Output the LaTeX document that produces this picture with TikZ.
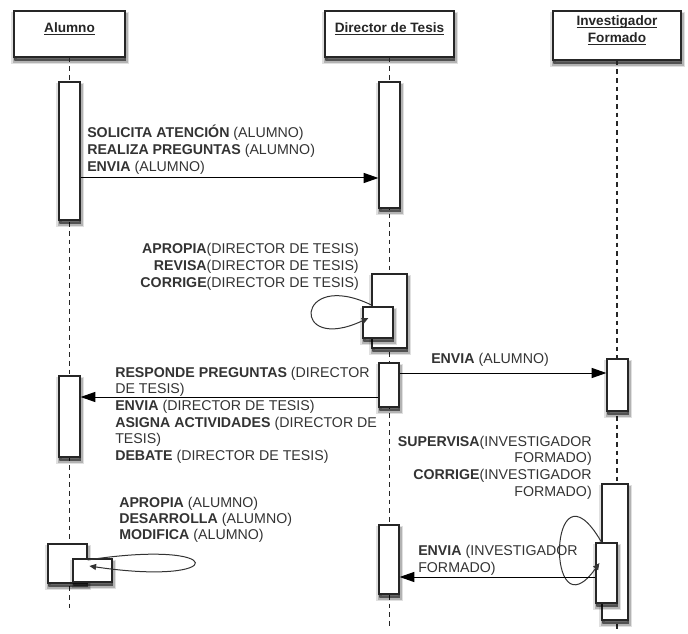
\documentclass[tikz,border=0pt]{standalone}
\usepackage{fontspec}
\setmainfont{Liberation Sans}
\usetikzlibrary{arrows.meta,fit,calc,shadows}

\newcommand{\msgfont}{\fontsize{10.65}{12.8}\selectfont}
\newcommand{\hdrfont}{\fontsize{10.2}{12.75}\selectfont\bfseries}
% underline kept close to the baseline, through the descenders
\newcommand{\hdrul}[1]{\underline{\raisebox{0pt}[\height][0pt]{#1}}}

\begin{document}
\begin{tikzpicture}[x=0.75pt,y=-0.75pt,
  % soft shadow built from a few translucent layers below the box
  softshadow/.style={
    general shadow={shadow xshift=0.4pt, shadow yshift=-3pt,
      draw=black, line width=5pt, opacity=0.12, fill=black},
    general shadow={shadow xshift=0.4pt, shadow yshift=-3pt,
      draw=black, line width=3pt, opacity=0.2, fill=black},
    general shadow={shadow xshift=0.3pt, shadow yshift=-2.6pt,
      draw=black, line width=1.2pt, opacity=0.35, fill=black}},
  box/.style={softshadow, draw=black!85, line width=0.9pt, fill=white, inner sep=0pt},
  head/.style={box, font=\hdrfont, align=center, text=black!85},
  act/.style={box},
  life/.style={draw=black!85, line width=0.8pt, dash pattern=on 3.5pt off 3pt},
  msg/.style={draw=black, line width=0.75pt, -{Triangle[length=11pt,width=7.5pt]}},
  selfmsg/.style={draw=black!80, line width=0.75pt, -{Triangle[length=5pt,width=4.5pt]}},
  lbl/.style={inner sep=0pt, font=\msgfont, text=black!80},
]
\useasboundingbox (0,0) rectangle (688,634);

% participants
\node[head, fit={(14,11) (125,57)}] (hA) {\hdrul{Alumno}};
\node[head, fit={(325,11) (454,57)}] (hD) {\hdrul{Director de Tesis}};
\node[head, fit={(553,11) (681,60)}] (hI) {\hdrul{Investigador}\\\hdrul{Formado}};

% lifelines
\coordinate (eA) at (69.5,610);
\coordinate (eD) at (389.5,626);
\coordinate (eI) at (617,632);
\draw[life] (hA.south) -- (eA);
\draw[life] (hD.south) -- (eD);
\draw[life] (hI.south) -- (eI);

% activation bars
\node[act, fit={(59,82) (80,220)}] (aA1) {};
\node[act, fit={(59,376) (80,457)}] (aA2) {};
\node[act, fit={(48,544) (87,583)}] (aA3) {};
\node[act, fit={(73,559) (112,582)}] (aA4) {};

\node[act, fit={(379,82) (400,208)}] (aD1) {};
\node[act, fit={(372,274) (407,348)}] (aD2) {};
\node[act, fit={(363,307) (393,338)}] (aD3) {};
\node[act, fit={(379,363) (399,407)}] (aD4) {};
\node[act, fit={(379,525) (399,594)}] (aD5) {};

\node[act, fit={(607,359) (628,411)}] (aI1) {};
\node[act, fit={(602,484) (628,620)}] (aI2) {};
\node[act, fit={(596,543) (617,603)}] (aI3) {};

% messages
\draw[msg] (aA1.east |- 0,178) -- (aD1.west |- 0,178);
\draw[selfmsg] (aD2.west |- 0,305) .. controls (295,268) and (290,355) .. ($(aD3.west)+(6,-4.5)$);
\draw[msg] (aD4.east |- 0,373) -- (aI1.west |- 0,373);
\draw[msg] (aD4.west |- 0,397) -- (aA2.east |- 0,397);
\draw[selfmsg] (aA3.east |- 0,560) .. controls (230,538) and (230,587) .. ($(aA4.west)+(17,-4.5)$);
\draw[selfmsg] (aI2.west |- 0,542) .. controls (548,450) and (545,640) .. ($(aI3.west)+(4,-10)$);
\draw[msg] (aI3.west |- 0,577) -- (aD5.east |- 0,577);

% message labels
\node[lbl, anchor=base west] (t1a) at (87,138) {\textbf{SOLICITA ATENCIÓN} (ALUMNO)};
\node[lbl, anchor=base west] (t1b) at (87,155) {\textbf{REALIZA PREGUNTAS} (ALUMNO)};
\node[lbl, anchor=base west] (t1c) at (87,172) {\textbf{ENVIA} (ALUMNO)};

\node[lbl, anchor=base east] (t2a) at (359,254) {\textbf{APROPIA}(DIRECTOR DE TESIS)};
\node[lbl, anchor=base east] (t2b) at (359,271) {\textbf{REVISA}(DIRECTOR DE TESIS)};
\node[lbl, anchor=base east] (t2c) at (359,287.5) {\textbf{CORRIGE}(DIRECTOR DE TESIS)};

\node[lbl, anchor=base west] (t3) at (431,363) {\textbf{ENVIA} (ALUMNO)};

\node[lbl, anchor=base west] (t4a) at (115,377) {\textbf{RESPONDE PREGUNTAS} (DIRECTOR};
\node[lbl, anchor=base west] (t4b) at (115,393) {DE TESIS)};
\node[lbl, anchor=base west] (t4c) at (115,410) {\textbf{ENVIA} (DIRECTOR DE TESIS)};
\node[lbl, anchor=base west] (t4d) at (115,427) {\textbf{ASIGNA ACTIVIDADES} (DIRECTOR DE};
\node[lbl, anchor=base west] (t4e) at (115,443) {TESIS)};
\node[lbl, anchor=base west] (t4f) at (115,460) {\textbf{DEBATE} (DIRECTOR DE TESIS)};

\node[lbl, anchor=base east] (t5a) at (592,446) {\textbf{SUPERVISA}(INVESTIGADOR};
\node[lbl, anchor=base east] (t5b) at (592,462) {FORMADO)};
\node[lbl, anchor=base east] (t5c) at (592,479) {\textbf{CORRIGE}(INVESTIGADOR};
\node[lbl, anchor=base east] (t5d) at (592,496) {FORMADO)};

\node[lbl, anchor=base west] (t6a) at (119,507) {\textbf{APROPIA} (ALUMNO)};
\node[lbl, anchor=base west] (t6b) at (119,523) {\textbf{DESARROLLA} (ALUMNO)};
\node[lbl, anchor=base west] (t6c) at (119,539) {\textbf{MODIFICA} (ALUMNO)};

\node[lbl, anchor=base west] (t7a) at (418,555) {\textbf{ENVIA} (INVESTIGADOR};
\node[lbl, anchor=base west] (t7b) at (418,572) {FORMADO)};
\end{tikzpicture}
\end{document}
